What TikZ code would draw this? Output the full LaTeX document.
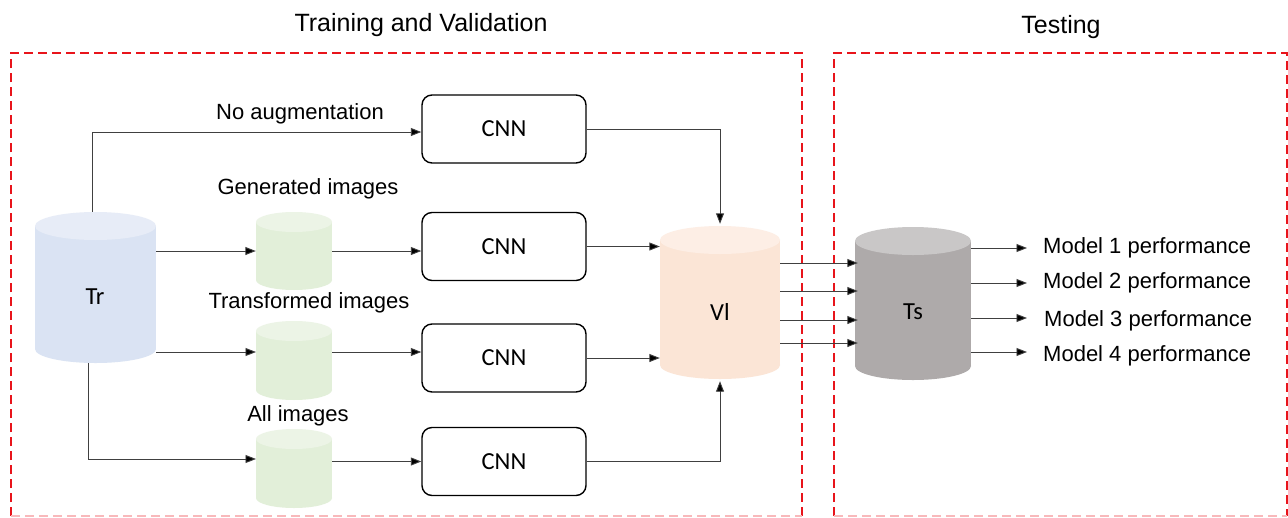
\documentclass[tikz,border=0pt]{standalone}
\usepackage{fontspec}
\setmainfont{Liberation Sans}
\newfontfamily\calib{Carlito}
\usetikzlibrary{arrows.meta,calc}
\definecolor{dred}{HTML}{E8141B}
\definecolor{trbody}{HTML}{DAE3F3}
\definecolor{trtop}{HTML}{E7ECF7}
\definecolor{gbody}{HTML}{E2EFD9}
\definecolor{gtop}{HTML}{ECF4E6}
\definecolor{vbody}{HTML}{FBE5D6}
\definecolor{vtop}{HTML}{FDEEE5}
\definecolor{tbody}{HTML}{AEAAAA}
\definecolor{ttop}{HTML}{C9C7C7}
\definecolor{lgray}{HTML}{404040}
% \cylshape{cx}{top}{bottom}{width}{ry}{body}{top}
\newcommand{\cylshape}[7]{%
  \fill[#6] (#1,-#3+#5) ellipse [x radius=#4/2, y radius=#5];
  \fill[#6] (#1-#4/2,-#2-#5) rectangle (#1+#4/2,-#3+#5);
  \fill[#7] (#1,-#2-#5) ellipse [x radius=#4/2, y radius=#5];
}
\tikzset{
  arr/.style={draw=lgray, line width=0.9pt, -{Triangle[length=10.5pt,width=8pt,fill=black]}},
  cnnbox/.style={draw=black, line width=1.4pt, rounded corners=10pt, minimum width=164pt, minimum height=68pt, inner sep=0pt, font=\calib\fontsize{24.5}{28}\selectfont},
  cylname/.style={inner sep=0pt, font=\calib\fontsize{24.5}{28}\selectfont},
  lbl/.style={inner sep=0pt, font=\fontsize{22}{26}\selectfont},
  ttl/.style={inner sep=0pt, font=\fontsize{25}{30}\selectfont},
  dbox/.style={draw=dred, line width=2pt, dash pattern=on 9pt off 5pt},
}
\begin{document}
\begin{tikzpicture}[x=1pt,y=1pt]
\useasboundingbox (0,0) rectangle (1288,-517);
\fill[white] (0,0) rectangle (1288,-517);
% dashed frames
\draw[dbox] (11,-516) -- (11,-53) -- (802,-53) -- (802,-516);
\draw[dbox] (834,-516) -- (834,-53) -- (1287,-53) -- (1287,-516);
\draw[dred!30, line width=1.2pt, dash pattern=on 9pt off 5pt] (11,-516) -- (802,-516) (834,-516) -- (1287,-516);
\node[ttl] (t1) at (421,-25) {Training and Validation};
\node[ttl] (t2) at (1061,-27) {Testing};
% cylinders
\cylshape{95.5}{212}{363}{121}{14}{trbody}{trtop}
\cylshape{294}{212}{290}{76}{10}{gbody}{gtop}
\cylshape{294}{321}{400}{76}{10}{gbody}{gtop}
\cylshape{294}{429}{508}{76}{10}{gbody}{gtop}
\cylshape{720}{226}{379}{120}{14}{vbody}{vtop}
\cylshape{913}{227}{380}{116}{14}{tbody}{ttop}
\node[cylname, minimum width=121pt, minimum height=151pt] (tr) at (95.5,-287.5) {};
\node[cylname] (trtext) at (95,-297) {Tr};
\node[inner sep=0pt, minimum width=76pt, minimum height=78pt] (g1) at (294,-251) {};
\node[inner sep=0pt, minimum width=76pt, minimum height=79pt] (g2) at (294,-360.5) {};
\node[inner sep=0pt, minimum width=76pt, minimum height=79pt] (g3) at (294,-468.5) {};
\node[cylname, minimum width=120pt, minimum height=153pt] (vl) at (720,-302.5) {};
\node[cylname] (vltext) at (720,-312) {Vl};
\node[cylname, minimum width=116pt, minimum height=153pt] (ts) at (913,-303.5) {};
\node[cylname] (tstext) at (913,-312) {Ts};
% labels
\node[lbl] (l1) at (300,-114) {No augmentation};
\node[lbl] (l2) at (308,-189) {Generated images};
\node[lbl] (l3) at (309,-303) {Transformed images};
\node[lbl] (l4) at (298,-416) {All images};
% CNN boxes
\node[cnnbox] (c1) at (504,-129) {CNN};
\node[cnnbox] (c2) at (504,-246.5) {CNN};
\node[cnnbox] (c3) at (504,-358) {CNN};
\node[cnnbox] (c4) at (504,-461.5) {CNN};
% model labels
\node[lbl, anchor=west] (m1) at (1043,-248) {Model 1 performance};
\node[lbl, anchor=west] (m2) at (1043,-283) {Model 2 performance};
\node[lbl, anchor=west] (m3) at (1044,-321) {Model 3 performance};
\node[lbl, anchor=west] (m4) at (1043,-356) {Model 4 performance};
% helper coordinates
\coordinate (g2in) at (256,-352);
\coordinate (g2out) at (332,-352);
\coordinate (g3in) at (256,-459);
% connectors
\draw[arr] ([xshift=-3.5pt]tr.north) |- ([yshift=-3pt]c1.west);
\draw[arr] (tr.east |- g1.west) -- (g1.west);
\draw[arr] (tr.east |- g2in) -- (g2in);
\draw[arr] ([xshift=-7.5pt]tr.south) |- (g3in);
\draw[arr] (g1.east) -- (g1.east -| c2.west);
\draw[arr] (g2out) -- (g2out -| c3.west);
\draw[arr] (g3.east |- c4.west) -- (c4.west);
\draw[arr] (c1.east) -| ([yshift=2pt]vl.north);
\draw[arr] (c2.east) -- (c2.east -| vl.west);
\draw[arr] (c3.east) -- (c3.east -| vl.west);
\draw[arr] (c4.east) -| ([yshift=-2pt]vl.south);
\draw[arr] ([yshift=39.5pt]vl.east) -- ([yshift=39.5pt,xshift=3pt]vl.east -| ts.west);
\draw[arr] ([yshift=11.5pt]vl.east) -- ([yshift=11.5pt,xshift=3pt]vl.east -| ts.west);
\draw[arr] ([yshift=-17.5pt]vl.east) -- ([yshift=-17.5pt,xshift=3pt]vl.east -| ts.west);
\draw[arr] ([yshift=-40.5pt]vl.east) -- ([yshift=-40.5pt,xshift=3pt]vl.east -| ts.west);
\draw[arr] (ts.east |- m1.west) -- ([xshift=-16pt]m1.west);
\draw[arr] (ts.east |- m2.west) -- ([xshift=-16pt]m2.west);
\draw[arr] ([yshift=3pt]ts.east |- m3.west) -- ([xshift=-17pt,yshift=3pt]m3.west);
\draw[arr] ([yshift=4pt]ts.east |- m4.west) -- ([xshift=-16pt,yshift=4pt]m4.west);
\end{tikzpicture}
\end{document}
